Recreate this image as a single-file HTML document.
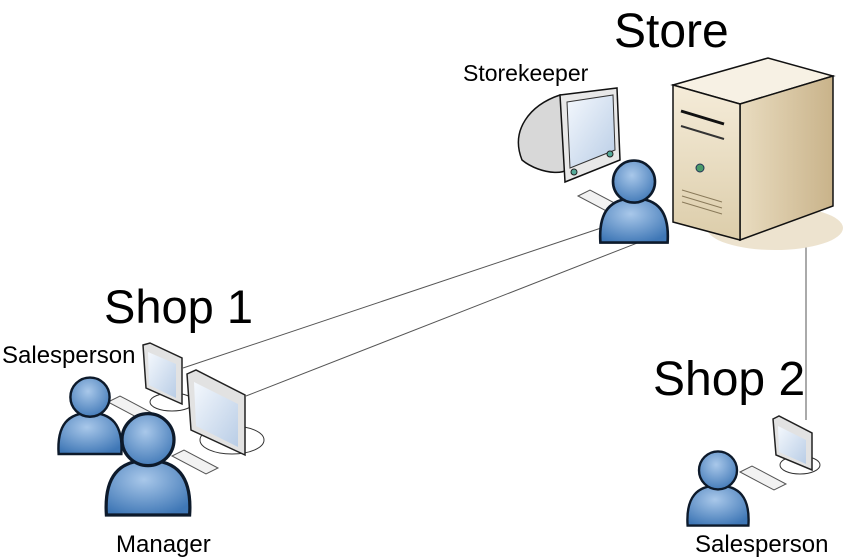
<!DOCTYPE html>
<html><head><meta charset="utf-8"><style>
html,body{margin:0;padding:0;background:#fff;}
svg{display:block;}
text{font-family:"Liberation Sans",sans-serif;fill:#000;}
</style></head><body>
<svg width="848" height="558" viewBox="0 0 848 558" xmlns="http://www.w3.org/2000/svg">
<defs>
<radialGradient id="pb" cx="0.45" cy="0.35" r="0.7"><stop offset="0" stop-color="#a9c8ea"/><stop offset="1" stop-color="#3f77b6"/></radialGradient>
<linearGradient id="scr" x1="0" y1="0" x2="1" y2="1"><stop offset="0" stop-color="#f4f8fd"/><stop offset="1" stop-color="#b9cde6"/></linearGradient>
<linearGradient id="front" x1="0" y1="0" x2="0" y2="1"><stop offset="0" stop-color="#f5ecd9"/><stop offset="1" stop-color="#dccdaa"/></linearGradient>
<linearGradient id="side" x1="0" y1="0" x2="1" y2="0"><stop offset="0" stop-color="#e9dcc0"/><stop offset="1" stop-color="#c9b38a"/></linearGradient>
<g id="person">
 <path d="M-32,50 C-34,20 -22,8 0,8 C22,8 34,20 32,50 Z" fill="url(#pb)" stroke="#0d1a2b" stroke-width="2.5"/>
 <circle cx="0" cy="-8" r="20" fill="url(#pb)" stroke="#0d1a2b" stroke-width="2.5"/>
</g>
<g id="kb"><path d="M0,0 L12,-6 L46,12 L34,18 Z" fill="#f2f2f2" stroke="#555" stroke-width="1"/></g>
</defs>

<line x1="183" y1="368" x2="640" y2="215" stroke="#555" stroke-width="1"/>
<line x1="246" y1="396" x2="650" y2="238" stroke="#555" stroke-width="1"/>
<line x1="806" y1="232" x2="806" y2="420" stroke="#555" stroke-width="1"/>

<ellipse cx="775" cy="228" rx="68" ry="22" fill="#ede3cf"/>
<path d="M673,85 L768,58 L833,76 L740,104 Z" fill="#f7f1e4" stroke="#111" stroke-width="1.5"/>
<path d="M740,104 L833,76 L833,206 L740,240 Z" fill="url(#side)" stroke="#111" stroke-width="1.5"/>
<path d="M673,85 L740,104 L740,240 L673,222 Z" fill="url(#front)" stroke="#111" stroke-width="1.5"/>
<path d="M681,111 L724,124" stroke="#111" stroke-width="3"/>
<path d="M681,126 L724,139" stroke="#333" stroke-width="2"/>
<circle cx="700" cy="168" r="4" fill="#4a9a6a" stroke="#235" stroke-width="1"/>
<path d="M682,190 L722,202 M682,196 L722,208 M682,202 L722,214" stroke="#8a7a5a" stroke-width="1"/>

<path d="M560,95 C530,105 510,130 522,160 C540,175 575,178 570,160 Z" fill="#d8d8d8" stroke="#111" stroke-width="1.5"/>
<path d="M560,95 L617,88 L620,160 L565,182 Z" fill="#e8e8e8" stroke="#111" stroke-width="1.5"/>
<path d="M567,102 L613,95 L615,150 L570,168 Z" fill="url(#scr)" stroke="#333" stroke-width="1"/>
<circle cx="574" cy="172" r="3" fill="#5a9" stroke="#222"/><circle cx="610" cy="154" r="3" fill="#5a9" stroke="#222"/>
<use href="#kb" x="578" y="196"/>
<use href="#person" transform="translate(634 190) scale(1.05)"/>

<ellipse cx="172" cy="402" rx="22" ry="9" fill="#fff" stroke="#333"/>
<path d="M143,345 L150,343 L182,358 L182,404 L146,388 Z" fill="#e2e2e2" stroke="#222" stroke-width="1.5"/>
<path d="M148,352 L176,364 L176,398 L149,385 Z" fill="url(#scr)"/>
<use href="#kb" x="108" y="402"/>
<ellipse cx="232" cy="440" rx="32" ry="14" fill="#fff" stroke="#333"/>
<path d="M187,374 L196,370 L245,395 L245,455 L191,430 Z" fill="#e2e2e2" stroke="#222" stroke-width="1.5"/>
<path d="M194,382 L238,404 L238,447 L196,426 Z" fill="url(#scr)"/>
<use href="#kb" x="172" y="456"/>
<use href="#person" transform="translate(90 405) scale(0.98)"/>
<use href="#person" transform="translate(148 450) scale(1.3)"/>

<ellipse cx="800" cy="465" rx="20" ry="9" fill="#fff" stroke="#333"/>
<path d="M773,419 L779,416 L812,433 L812,470 L776,455 Z" fill="#e2e2e2" stroke="#222" stroke-width="1.5"/>
<path d="M778,426 L806,440 L806,464 L779,452 Z" fill="url(#scr)"/>
<use href="#kb" x="740" y="472"/>
<use href="#person" transform="translate(718 478) scale(0.95)"/>

<text x="614" y="47" font-size="48">Store</text>
<text x="463" y="81" font-size="23">Storekeeper</text>
<text x="104" y="323" font-size="47">Shop 1</text>
<text x="2" y="363" font-size="24">Salesperson</text>
<text x="116" y="552" font-size="24">Manager</text>
<text x="653" y="395" font-size="48">Shop 2</text>
<text x="695" y="552" font-size="24">Salesperson</text>
</svg>
</body></html>
